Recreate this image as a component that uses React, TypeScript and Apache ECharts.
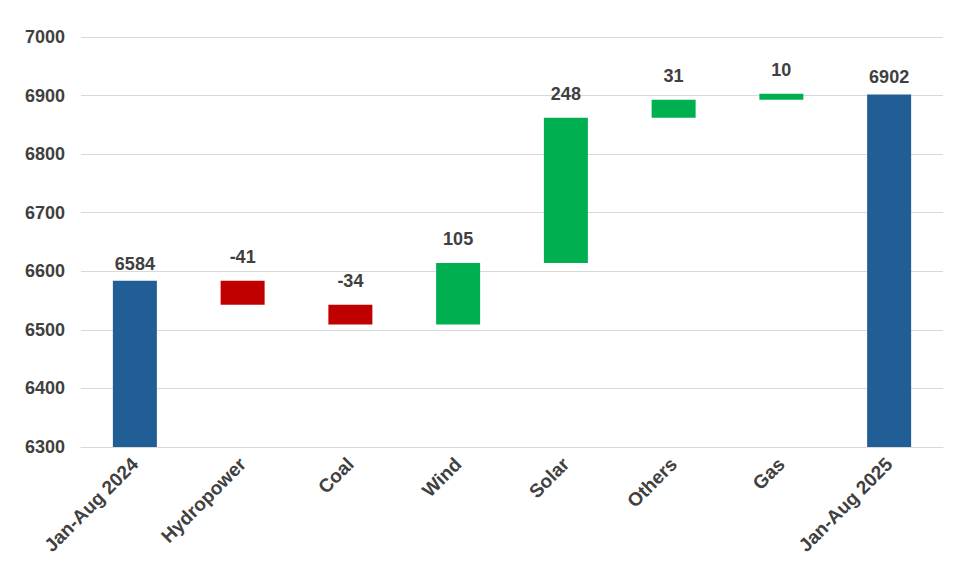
import React, { useEffect, useRef } from "react";
import * as echarts from "echarts";

const categories = ["Jan-Aug 2024", "Hydropower", "Coal", "Wind", "Solar", "Others", "Gas", "Jan-Aug 2025"];
const changes = [6584, -41, -34, 105, 248, 31, 10, 6902];
const isTotal = [true, false, false, false, false, false, false, true];
const yTicks = { min: 6300, max: 7000, interval: 100 };

const BLUE = "#225E96";
const GREEN = "#00B050";
const RED = "#C00000";
const TEXT = "#404040";
const FONT = "'Liberation Sans', Arial, sans-serif";

export default function App() {
  const ref = useRef<HTMLDivElement>(null);
  useEffect(() => {
    if (!ref.current) return;
    const chart = echarts.init(ref.current, undefined, { renderer: "svg" });

    const base: (number | string)[] = [];
    const total: (number | string)[] = [];
    const up: (number | string)[] = [];
    const down: (number | string)[] = [];
    let running = 0;
    changes.forEach((v, i) => {
      if (isTotal[i]) {
        base.push("-");
        total.push(v);
        up.push("-");
        down.push("-");
        running = v;
      } else if (v >= 0) {
        base.push(running);
        total.push("-");
        up.push(v);
        down.push("-");
        running += v;
      } else {
        base.push(running + v);
        total.push("-");
        up.push("-");
        down.push(-v);
        running += v;
      }
    });

    const mkLabel = (distance: number) => ({
      show: true,
      position: "top" as const,
      distance,
      color: TEXT,
      fontFamily: FONT,
      fontWeight: "bold" as const,
      fontSize: 18,
      formatter: (p: any) => String(changes[p.dataIndex]),
    });

    chart.setOption({
      animation: false,
      grid: { left: 81, right: 12, top: 37, bottom: 119, containLabel: false },
      xAxis: {
        type: "category",
        data: categories,
        axisLine: { show: true, lineStyle: { color: "#d9d9d9" } },
        axisTick: { show: false },
        axisLabel: {
          rotate: 45,
          interval: 0,
          margin: 14,
          color: TEXT,
          fontFamily: FONT,
          fontWeight: "bold",
          fontSize: 19,
        },
      },
      yAxis: {
        type: "value",
        min: yTicks.min,
        max: yTicks.max,
        interval: yTicks.interval,
        axisLine: { show: false },
        axisTick: { show: false },
        splitLine: { lineStyle: { color: "#d9d9d9" } },
        axisLabel: {
          margin: 16,
          color: TEXT,
          fontFamily: FONT,
          fontWeight: "bold",
          fontSize: 18,
          formatter: (v: number) => String(v),
        },
      },
      series: [
        {
          type: "bar",
          stack: "wf",
          data: base,
          barWidth: 44,
          itemStyle: { color: "transparent" },
          silent: true,
        },
        { type: "bar", stack: "wf", data: total, barWidth: 44, itemStyle: { color: BLUE }, label: mkLabel(8) },
        { type: "bar", stack: "wf", data: up, barWidth: 44, itemStyle: { color: GREEN }, label: mkLabel(15) },
        { type: "bar", stack: "wf", data: down, barWidth: 44, itemStyle: { color: RED }, label: mkLabel(15) },
      ],
    });
    return () => chart.dispose();
  }, []);
  return (
    <div
      ref={ref}
      style={{ position: "absolute", left: 0, top: 0, width: 955, height: 566, background: "#fff" }}
    />
  );
}
